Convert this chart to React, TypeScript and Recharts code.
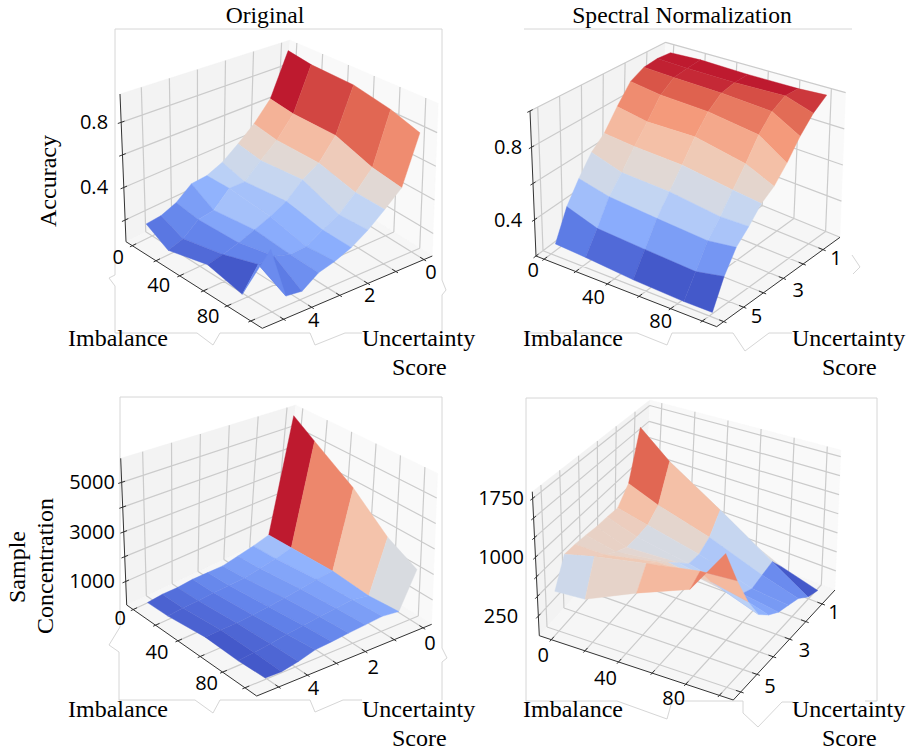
import { ScatterChart, Scatter, XAxis, YAxis } from 'recharts'

type Pt = [number, number]
type Box = { bottom: Pt[]; top: Pt[]; u: Pt; v: Pt; z: Pt }

// cube corners on screen, order: back, right, left, front
const BOX_A: Box = { bottom: [[283.3,163.3],[432.3,256],[126,241.7],[262.3,328.3]], top: [[290,40],[438.3,103.3],[120,94],[265,163.3]], u: [-5.3,109.7], v: [-0.3,5.76], z: [0.067,0.974] }
const BOX_B: Box = { bottom: [[659,163.3],[840,237.3],[536,256],[716.7,326.7]], top: [[665.7,42.3],[845.7,92.7],[530,111],[713.3,160]], u: [-5.14,109.1], v: [0.143,6.354], z: [0.2,1] }
const BOX_C: Box = { bottom: [[283.3,531.7],[431.7,624.3],[126.7,605],[256.7,696]], top: [[295.7,405],[437.7,473.3],[120.7,458.3],[260,531.7]], u: [-5.8,110.5], v: [-0.3,5.76], z: [50,5970] }
const BOX_D: Box = { bottom: [[645,516.7],[835,590],[539.3,635.7],[733.3,700]], top: [[650,400],[841,450],[532.3,491.7],[728.3,533.3]], u: [-7.16,108.3], v: [0.206,6.456], z: [0,1836] }

const imbalanceTicks = [0,20,40,60,80,100]
const scoreTicksLeft = [0,1,2,3,4,5]
const scoreTicksRight = [1,2,3,4,5,6]

const imbalanceA = [0,18,51,80,103]
const imbalanceB = [4,23,53,85,103]
const imbalanceC = [0,18,51,80,104]
const imbalanceD = [0,18,49,81,103]
const scoreLeft = [0,0.58,1.16,1.74,2.32,2.9,3.48,4.06,4.64,5.21]
const scoreB = [0.58,1.19,1.8,2.41,3.02,3.63,4.24,4.86,5.47,6.08]
const scoreD = [0.74,1.34,1.94,2.54,3.14,3.74,4.34,4.94,5.54,6.14]

const accuracyOriginal = [
  [.938,.911,.901,.852,.793],
  [.634,.611,.611,.530,.502],
  [.502,.475,.475,.417,.412],
  [.409,.383,.409,.323,.330],
  [.330,.288,.316,.271,.267],
  [.287,.289,.264,.213,.226],
  [.279,.194,.225,.206,.199],
  [.203,.180,.188,.235,.133],
  [.166,.106,.160,.227,.144],
  [.158,.079,.141,.095,.442],
]
const accuracySpectral = [
  [.990,.998,.990,.990,.998],
  [.996,.988,.982,.987,.936],
  [.984,.972,.960,.938,.848],
  [.939,.910,.893,.848,.744],
  [.830,.794,.792,.731,.661],
  [.716,.695,.677,.632,.611],
  [.650,.591,.574,.534,.534],
  [.546,.502,.475,.452,.470],
  [.434,.374,.355,.338,.366],
  [.275,.264,.242,.231,.232],
]
const concentrationOriginal = [
  [5758,5101,3976,2751,2141],
  [596,643,738,643,755],
  [406,465,673,750,826],
  [270,335,554,684,761],
  [140,229,465,613,702],
  [152,199,394,542,631],
  [163,193,335,465,578],
  [110,146,288,359,394],
  [122,140,288,288,270],
  [63,87,270,229,282],
]
const concentrationSpectral = [
  [1210,848,525,206,73],
  [1722,1338,872,413,123],
  [1032,852,637,371,235],
  [824,714,545,330,279],
  [839,692,554,395,319],
  [845,692,698,543,406],
  [868,767,828,696,529],
  [883,859,953,900,789],
  [883,962,1054,1133,1136],
  [540,554,813,1030,1542],
]

// colormap position of each facet
const toneA = [
  [.97,.91,.86,.78],[.68,.65,.59,.52],[.55,.52,.44,.38],[.43,.40,.35,.33],[.36,.31,.26,.245],
  [.26,.31,.24,.20],[.20,.22,.17,.16],[.14,.13,.13,.11],[.10,.07,.03,.15],
]
const toneB = [
  [.97,.97,.97,.93],[.96,.95,.90,.85],[.89,.87,.82,.75],[.78,.75,.71,.64],[.66,.64,.60,.54],
  [.55,.52,.46,.40],[.44,.39,.34,.32],[.30,.24,.20,.18],[.11,.07,.03,.03],
]
const toneC = [
  [.97,.79,.63,.48],[.30,.26,.24,.23],[.23,.22,.21,.20],[.20,.19,.18,.17],[.17,.16,.15,.14],
  [.14,.13,.12,.11],[.11,.10,.09,.09],[.08,.07,.06,.06],[.05,.05,.03,.03],
]
const toneD = [
  [.5,.5,.5,.03],[.86,.64,.40,.15],[.64,.54,.33,.18],[.58,.47,.33,.19],[.56,.47,.36,.22],
  [.56,.53,.40,.26],[.55,.55,.55,.36],[.58,.60,.60,.66],[.43,.55,.66,.80],
]

const FRAMES: Pt[][] = [
  [[115,275],[109,278],[115,286],[115,333],[197,333],[213,345],[220,333],[310,333],[315,345],[345,333],[362,333]],
  [[115,275],[115,29],[442,29],[442,280],[446,290],[442,295],[442,333]],
  [[524,333],[637,333],[667,345],[672,333],[733,333],[745,351],[769,333],[792,333]],
  [[524,29],[852,29]],
  [[852,255],[860,267],[853,274]],
  [[120,627],[109,645],[119,652],[119,700],[195,700],[213,713],[220,700],[310,700],[315,712],[343,700],[362,700]],
  [[120,627],[120,397],[442,397],[442,648],[447,658],[442,662],[442,700]],
  [[526,701],[526,398],[877,398],[877,701],[865,701]],
  [[526,701],[617,701],[667,719],[672,701],[743,701],[743,713],[758,727],[782,702],[793,702]],
]

const STOPS = ['#3b4cc0','#6282ea','#8db0fe','#c0d4f5','#dddcdc','#f4c5ad','#f49a7b','#de604d','#b40426']
function coolwarm(t: number) {
  const p = Math.min(Math.max(t, 0), 1) * 8
  const i = Math.min(Math.floor(p), 7)
  const f = p - i
  const a = STOPS[i], b = STOPS[i + 1]
  const ch = (s: string, k: number) => parseInt(s.slice(k, k + 2), 16)
  const mix = (k: number) => Math.round(ch(a, k) + (ch(b, k) - ch(a, k)) * f)
  return `rgb(${mix(1)},${mix(3)},${mix(5)})`
}

function place(b: Box, u: number, v: number, w: number) {
  const k = [(1 - u) * (1 - v), u * (1 - v), (1 - u) * v, u * v]
  const sum = (c: Pt[], n: number) => c.reduce((s, p, i) => s + p[n] * k[i], 0)
  return {
    x: sum(b.bottom, 0) + (sum(b.top, 0) - sum(b.bottom, 0)) * w,
    y: sum(b.bottom, 1) + (sum(b.top, 1) - sum(b.bottom, 1)) * w,
  }
}
const frac = (r: Pt, n: number) => (n - r[0]) / (r[1] - r[0])

const hidePoint = () => <g />
const quadLine = (fills: string[]) => (p: any) => {
  const out = []
  for (let i = 0; i + 3 < p.points.length; i += 4) {
    const d = p.points.slice(i, i + 4).map((q: any, n: number) => `${n ? 'L' : 'M'}${q.x},${q.y}`).join('') + 'Z'
    out.push(<path key={i} d={d} fill={fills[i / 4]} stroke={fills[i / 4]} strokeWidth={0.4} />)
  }
  return <g>{out}</g>
}
const segLine = (stroke: string, width: number) => (p: any) => {
  let d = ''
  for (let i = 0; i + 1 < p.points.length; i += 2) d += `M${p.points[i].x},${p.points[i].y}L${p.points[i + 1].x},${p.points[i + 1].y}`
  return <path d={d} fill="none" stroke={stroke} strokeWidth={width} />
}
const pathLine = (stroke: string, width: number) => (p: any) => (
  <path d={p.points.map((q: any, n: number) => `${n ? 'L' : 'M'}${q.x},${q.y}`).join('')} fill="none" stroke={stroke} strokeWidth={width} />
)

const SERIF = '"Liberation Serif", serif'
const SANS = '"Open Sans", sans-serif'
const textShape = (p: any) => {
  const t = p.payload
  return (
    <text x={p.cx} y={p.cy} textAnchor={t.anchor ?? 'middle'} fontFamily={t.font ?? SANS} fontSize={t.size ?? 20} fill="#000"
      transform={t.rot ? `rotate(${t.rot} ${p.cx} ${p.cy})` : undefined}>{t.label}</text>
  )
}

type Panel = {
  box: Box; imb: number[]; score: number[]; grid: number[][]; tone: number[][]
  scoreTicks: number[]; zTicks: number[]; zLabels: { v: number; label: string }[]; zLabelX: number
  imbOff: Pt[]; scoreOff: Pt[]; scoreLabels: number[]
}

const panels: Panel[] = [
  { box: BOX_A, imb: imbalanceA, score: scoreLeft, grid: accuracyOriginal, tone: toneA, scoreTicks: scoreTicksLeft,
    zTicks: [.2,.4,.6,.8], zLabels: [{ v: .8, label: '0.8' }, { v: .4, label: '0.4' }], zLabelX: 94,
    imbOff: [[-14,11],[-21,9],[-19,10]], scoreOff: [[7,12],[2,12],[2,13]], scoreLabels: [0,2,4] },
  { box: BOX_B, imb: imbalanceB, score: scoreB, grid: accuracySpectral, tone: toneB, scoreTicks: scoreTicksRight,
    zTicks: [.2,.4,.6,.8,1], zLabels: [{ v: .8, label: '0.8' }, { v: .4, label: '0.4' }], zLabelX: 508,
    imbOff: [[-11,11],[-14,13],[-10,12]], scoreOff: [[13,8],[15,12],[13,9]], scoreLabels: [1,3,5] },
  { box: BOX_C, imb: imbalanceC, score: scoreLeft, grid: concentrationOriginal, tone: toneC, scoreTicks: scoreTicksLeft,
    zTicks: [1000,2000,3000,4000,5000], zLabels: [{ v: 5000, label: '5000' }, { v: 3000, label: '3000' }, { v: 1000, label: '1000' }], zLabelX: 92,
    imbOff: [[-13,8],[-21,11],[-16,11]], scoreOff: [[7,15],[8,15],[6,13]], scoreLabels: [0,2,4] },
  { box: BOX_D, imb: imbalanceD, score: scoreD, grid: concentrationSpectral, tone: toneD, scoreTicks: scoreTicksRight,
    zTicks: [250,500,750,1000,1250,1500,1750], zLabels: [{ v: 1750, label: '1750' }, { v: 1000, label: '1000' }, { v: 250, label: '250' }], zLabelX: 501,
    imbOff: [[-8,15],[-13,16],[-12,14]], scoreOff: [[12,8],[15,11],[13,12]], scoreLabels: [1,3,5] },
]

const captions = [
  { x: 265, y: 23, label: 'Original', font: SERIF, size: 23.6 },
  { x: 682, y: 23, label: 'Spectral Normalization', font: SERIF, size: 23.6 },
  { x: 68, y: 346, label: 'Imbalance', font: SERIF, size: 24, anchor: 'start' },
  { x: 523, y: 346, label: 'Imbalance', font: SERIF, size: 24, anchor: 'start' },
  { x: 68, y: 717, label: 'Imbalance', font: SERIF, size: 24, anchor: 'start' },
  { x: 523, y: 717, label: 'Imbalance', font: SERIF, size: 24, anchor: 'start' },
  { x: 362, y: 346, label: 'Uncertainty', font: SERIF, size: 24, anchor: 'start' },
  { x: 792, y: 346, label: 'Uncertainty', font: SERIF, size: 24, anchor: 'start' },
  { x: 362, y: 717, label: 'Uncertainty', font: SERIF, size: 24, anchor: 'start' },
  { x: 792, y: 717, label: 'Uncertainty', font: SERIF, size: 24, anchor: 'start' },
  { x: 392, y: 375, label: 'Score', font: SERIF, size: 24, anchor: 'start' },
  { x: 822, y: 375, label: 'Score', font: SERIF, size: 24, anchor: 'start' },
  { x: 392, y: 746, label: 'Score', font: SERIF, size: 24, anchor: 'start' },
  { x: 822, y: 746, label: 'Score', font: SERIF, size: 24, anchor: 'start' },
  { x: 56, y: 181, label: 'Accuracy', font: SERIF, size: 24, rot: -90 },
  { x: 25, y: 567, label: 'Sample', font: SERIF, size: 24, rot: -90 },
  { x: 53, y: 566, label: 'Concentration', font: SERIF, size: 24, rot: -90 },
]

function panelMarks(p: Panel, n: number) {
  const b = p.box
  const at = (u: number, v: number, w: number) => place(b, u, v, w)
  const walls = [
    at(0,0,0), at(0,1,0), at(0,1,1), at(0,0,1),
    at(0,0,0), at(1,0,0), at(1,0,1), at(0,0,1),
    at(0,0,0), at(1,0,0), at(1,1,0), at(0,1,0),
  ]
  const gridPts: { x: number; y: number }[] = []
  p.scoreTicks.forEach(t => {
    const v = frac(b.v, t)
    gridPts.push(at(0,v,0), at(0,v,1), at(0,v,0), at(1,v,0))
  })
  imbalanceTicks.forEach(t => {
    const u = frac(b.u, t)
    gridPts.push(at(u,0,0), at(u,0,1), at(u,0,0), at(u,1,0))
  })
  p.zTicks.forEach(t => {
    const w = frac(b.z, t)
    gridPts.push(at(0,1,w), at(0,0,w), at(0,0,w), at(1,0,w))
  })
  const axisPts = [at(0,1,0), at(1,1,0), at(1,1,0), at(1,0,0), at(0,1,0), at(0,1,1)]
  imbalanceTicks.forEach(t => { const u = frac(b.u, t); axisPts.push(at(u,.975,0), at(u,1.015,0)) })
  p.scoreTicks.forEach(t => { const v = frac(b.v, t); axisPts.push(at(.975,v,0), at(1.015,v,0)) })
  p.zTicks.forEach(t => { const w = frac(b.z, t); axisPts.push(at(0,.98,w), at(0,1.02,w)) })

  const facets: { x: number; y: number }[] = []
  const fills: string[] = []
  p.tone.forEach((row, r) => row.forEach((tone, c) => {
    const corner = (i: number, j: number) => at(frac(b.u, p.imb[i]), frac(b.v, p.score[j]), frac(b.z, p.grid[j][i]))
    facets.push(corner(c, r), corner(c + 1, r), corner(c + 1, r + 1), corner(c, r + 1))
    fills.push(coolwarm(tone))
  }))

  const labels: any[] = []
  p.zLabels.forEach(l => {
    const q = at(0, 1, frac(b.z, l.v))
    labels.push({ x: p.zLabelX, y: q.y + 7, label: l.label })
  })
  ;[0,40,80].forEach((t, i) => {
    const q = at(frac(b.u, t), 1, 0)
    labels.push({ x: q.x + p.imbOff[i][0], y: q.y + p.imbOff[i][1] + 7, label: String(t) })
  })
  p.scoreLabels.forEach((t, i) => {
    const q = at(1, frac(b.v, t), 0)
    labels.push({ x: q.x + p.scoreOff[i][0], y: q.y + p.scoreOff[i][1] + 7, label: String(t) })
  })

  const common = { isAnimationActive: false, shape: hidePoint, legendType: 'none' as const }
  return [
    <Scatter key={`w${n}`} {...common} data={walls} line={quadLine(['#f3f3f3','#f9f9f9','#f6f6f6'])} />,
    <Scatter key={`g${n}`} {...common} data={gridPts} line={segLine('#cbcbcb', 1.2)} />,
    <Scatter key={`a${n}`} {...common} data={axisPts} line={segLine('#333333', 1)} />,
    <Scatter key={`s${n}`} {...common} data={facets} line={quadLine(fills)} />,
    <Scatter key={`t${n}`} isAnimationActive={false} legendType="none" data={labels} shape={textShape} />,
  ]
}

export default function App() {
  return (
    <div style={{ position: 'absolute', left: 0, top: 0, width: 906, height: 749, background: '#fff' }}>
      <ScatterChart width={906} height={749} margin={{ top: 0, right: 0, bottom: 0, left: 0 }}>
        <XAxis type="number" dataKey="x" domain={[0, 906]} allowDataOverflow hide />
        <YAxis type="number" dataKey="y" domain={[0, 749]} allowDataOverflow reversed hide />
        {FRAMES.map((f, i) => (
          <Scatter key={`f${i}`} isAnimationActive={false} shape={hidePoint} legendType="none"
            data={f.map(([x, y]) => ({ x, y }))} line={pathLine('#d6d6d6', 1)} />
        ))}
        {panels.flatMap(panelMarks)}
        <Scatter isAnimationActive={false} legendType="none" data={captions} shape={textShape} />
      </ScatterChart>
    </div>
  )
}
